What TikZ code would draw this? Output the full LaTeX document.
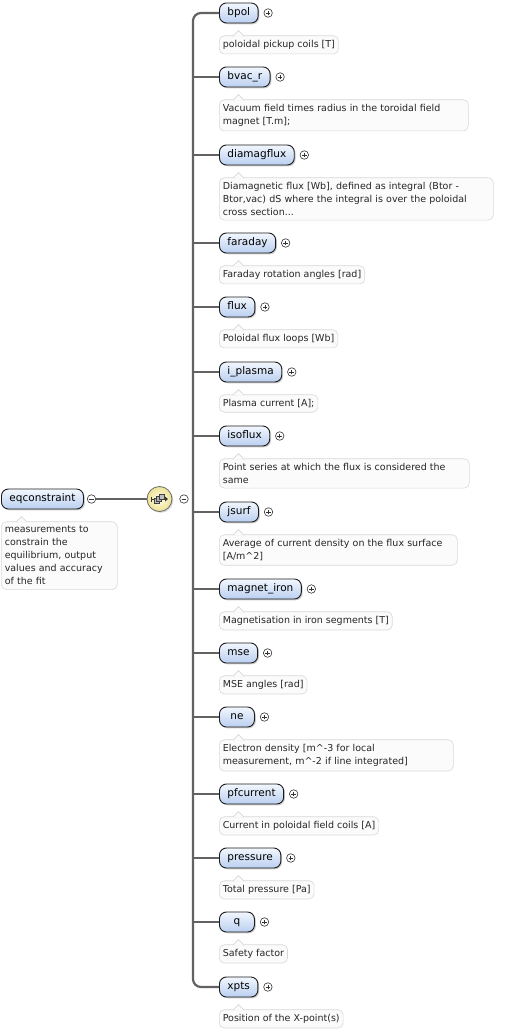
\documentclass[tikz,border=0pt]{standalone}
\usepackage{fontspec}
\setmainfont{DejaVu Sans}
\usepackage{tikz}
\usetikzlibrary{positioning, shadows}
\usepackage{xcolor}
\definecolor{elemtop}{RGB}{242, 247, 254}
\definecolor{elembot}{RGB}{186, 207, 240}
\definecolor{elemline}{RGB}{28, 28, 28}
\definecolor{docfill}{RGB}{251, 251, 251}
\definecolor{docline}{RGB}{216, 216, 216}
\definecolor{wiregray}{RGB}{98, 98, 98}
\definecolor{iconin}{RGB}{255, 252, 226}
\definecolor{iconout}{RGB}{238, 226, 150}
\definecolor{iconline}{RGB}{105, 105, 105}

\begin{document}
\begin{tikzpicture}[
  x=1pt, y=-1pt,
  elem/.style={draw=elemline, line width=0.9pt, rounded corners=7pt,
               top color=elemtop, bottom color=elembot,
               minimum height=20pt, minimum width=35pt, inner xsep=8pt, inner ysep=0pt,
               text height=7.6pt, text depth=2.2pt, anchor=west,
               font=\fontsize{10.5}{12}\selectfont,
               drop shadow={shadow xshift=1.3pt, shadow yshift=-1.3pt, opacity=0.4}},
  doc/.style={draw=docline, line width=0.6pt, fill=docfill, rounded corners=5pt,
              align=left, inner xsep=3.5pt, inner ysep=4.5pt, text=black!85,
              font=\fontsize{9.5}{13}\selectfont},
  notch/.style={draw=docline, line width=0.6pt, fill=docfill},
  wire/.style={draw=wiregray, line width=2.2pt},
  bar/.style={draw=wiregray, line width=2.2pt, rounded corners=8pt},
  plusbtn/.style={circle, draw=black!80, fill=white, line width=0.6pt,
                  minimum size=8.5pt, inner sep=0pt,
                  path picture={\draw[line width=0.7pt]
                    ([xshift=-2.3pt]path picture bounding box.center) -- ([xshift=2.3pt]path picture bounding box.center)
                    ([yshift=-2.3pt]path picture bounding box.center) -- ([yshift=2.3pt]path picture bounding box.center);}},
  minusbtn/.style={circle, draw=black!80, fill=white, line width=0.6pt,
                   minimum size=8.5pt, inner sep=0pt,
                   path picture={\draw[line width=0.7pt]
                     ([xshift=-2.3pt]path picture bounding box.center) -- ([xshift=2.3pt]path picture bounding box.center);}},
  seqicon/.style={circle, draw=iconline, line width=0.8pt, minimum size=25pt, inner sep=0pt,
                  inner color=iconin, outer color=iconout,
                  drop shadow={shadow xshift=1.3pt, shadow yshift=-1.3pt, opacity=0.3}}
]
  \useasboundingbox (0,0) rectangle (516,1032);

  % root element and its sequence
  \node[elem] (eqc) at (1,499) {eqconstraint};
  \node[minusbtn, right=3pt of eqc] (eqcm) {};
  \node[doc, text width=109pt, below=12pt of eqc.south west, anchor=north west] (eqcdoc)
    {measurements to\\constrain the\\equilibrium, output\\values and accuracy\\of the fit};
  \node[seqicon] (seq) at (159.5,499) {};
  \node[minusbtn, right=7pt of seq] (seqm) {};
  \coordinate (bar) at (193,499);

  \begin{scope}[shift={(seq.center)}]
    \draw[black!80, line width=0.9pt] (-8,0) -- (6,0);
    \draw[black!80, line width=0.9pt] (-8,-2.5) -- (-8,2.5);
    \fill[black!80] (8.5,0) -- (5.5,-2.5) -- (5.5,2.5) -- cycle;
    \filldraw[fill=gray!50, draw=black!75, line width=0.5pt] (-5.5,-0.5) rectangle (-0.5,4.5);
    \filldraw[fill=gray!60, draw=black!75, line width=0.5pt] (-3,-2.5) rectangle (2,2.5);
    \filldraw[fill=gray!50, draw=black!75, line width=0.5pt] (-0.5,-4.5) rectangle (4.5,0.5);
  \end{scope}

  % child elements
  \node[elem] (bpol) at (219,13) {bpol};
  \node[plusbtn, right=5pt of bpol] (bpolp) {};
  \node[doc, below=12pt of bpol.south west, anchor=north west] (bpoldoc)
    {poloidal pickup coils [T]};

  \node[elem] (bvacr) at (219,77) {bvac\_r};
  \node[plusbtn, right=5pt of bvacr] (bvacrp) {};
  \node[doc, text width=242pt, below=12pt of bvacr.south west, anchor=north west] (bvacrdoc)
    {Vacuum field times radius in the toroidal field\\magnet [T.m];};

  \node[elem] (diamag) at (219,155) {diamagflux};
  \node[plusbtn, right=5pt of diamag] (diamagp) {};
  \node[doc, text width=267pt, below=12pt of diamag.south west, anchor=north west] (diamagdoc)
    {Diamagnetic flux [Wb], defined as integral (Btor -\\Btor,vac) dS where the integral is over the poloidal\\cross section...};

  \node[elem] (faraday) at (219,243) {faraday};
  \node[plusbtn, right=5pt of faraday] (faradayp) {};
  \node[doc, below=12pt of faraday.south west, anchor=north west] (faradaydoc)
    {Faraday rotation angles [rad]};

  \node[elem] (flux) at (219,307) {flux};
  \node[plusbtn, right=5pt of flux] (fluxp) {};
  \node[doc, below=12pt of flux.south west, anchor=north west] (fluxdoc)
    {Poloidal flux loops [Wb]};

  \node[elem] (iplasma) at (219,372) {i\_plasma};
  \node[plusbtn, right=5pt of iplasma] (iplasmap) {};
  \node[doc, below=12pt of iplasma.south west, anchor=north west] (iplasmadoc)
    {Plasma current [A];};

  \node[elem] (isoflux) at (219,436) {isoflux};
  \node[plusbtn, right=5pt of isoflux] (isofluxp) {};
  \node[doc, text width=243pt, below=12pt of isoflux.south west, anchor=north west] (isofluxdoc)
    {Point series at which the flux is considered the\\same};

  \node[elem] (jsurf) at (219,512) {jsurf};
  \node[plusbtn, right=5pt of jsurf] (jsurfp) {};
  \node[doc, text width=231pt, below=12pt of jsurf.south west, anchor=north west] (jsurfdoc)
    {Average of current density on the flux surface\\{[A/m\textasciicircum2]}};

  \node[elem] (magiron) at (219,589) {magnet\_iron};
  \node[plusbtn, right=5pt of magiron] (magironp) {};
  \node[doc, below=12pt of magiron.south west, anchor=north west] (magirondoc)
    {Magnetisation in iron segments [T]};

  \node[elem] (mse) at (219,653) {mse};
  \node[plusbtn, right=5pt of mse] (msep) {};
  \node[doc, below=12pt of mse.south west, anchor=north west] (msedoc)
    {MSE angles [rad]};

  \node[elem] (ne) at (219,717) {ne};
  \node[plusbtn, right=5pt of ne] (nep) {};
  \node[doc, text width=227pt, below=12pt of ne.south west, anchor=north west] (nedoc)
    {Electron density [m\textasciicircum-3 for local\\measurement, m\textasciicircum-2 if line integrated]};

  \node[elem] (pfcur) at (219,794) {pfcurrent};
  \node[plusbtn, right=5pt of pfcur] (pfcurp) {};
  \node[doc, below=12pt of pfcur.south west, anchor=north west] (pfcurdoc)
    {Current in poloidal field coils [A]};

  \node[elem] (pressure) at (219,858) {pressure};
  \node[plusbtn, right=5pt of pressure] (pressurep) {};
  \node[doc, below=12pt of pressure.south west, anchor=north west] (pressuredoc)
    {Total pressure [Pa]};

  \node[elem] (q) at (219,922) {q};
  \node[plusbtn, right=5pt of q] (qp) {};
  \node[doc, below=12pt of q.south west, anchor=north west] (qdoc)
    {Safety factor};

  \node[elem] (xpts) at (219,987) {xpts};
  \node[plusbtn, right=5pt of xpts] (xptsp) {};
  \node[doc, below=12pt of xpts.south west, anchor=north west] (xptsdoc)
    {Position of the X-point(s)};

  % pointers of the documentation boxes
  \path[notch] ([xshift=15pt, yshift=-0.7pt]eqcdoc.north west)   -- ++(5.5pt,5.5pt) -- ++(5.5pt,-5.5pt);
  \path[notch] ([xshift=14pt, yshift=-0.7pt]bpoldoc.north west)  -- ++(5.5pt,5.5pt) -- ++(5.5pt,-5.5pt);
  \path[notch] ([xshift=14pt, yshift=-0.7pt]bvacrdoc.north west) -- ++(5.5pt,5.5pt) -- ++(5.5pt,-5.5pt);
  \path[notch] ([xshift=14pt, yshift=-0.7pt]diamagdoc.north west) -- ++(5.5pt,5.5pt) -- ++(5.5pt,-5.5pt);
  \path[notch] ([xshift=14pt, yshift=-0.7pt]faradaydoc.north west) -- ++(5.5pt,5.5pt) -- ++(5.5pt,-5.5pt);
  \path[notch] ([xshift=14pt, yshift=-0.7pt]fluxdoc.north west)  -- ++(5.5pt,5.5pt) -- ++(5.5pt,-5.5pt);
  \path[notch] ([xshift=14pt, yshift=-0.7pt]iplasmadoc.north west) -- ++(5.5pt,5.5pt) -- ++(5.5pt,-5.5pt);
  \path[notch] ([xshift=14pt, yshift=-0.7pt]isofluxdoc.north west) -- ++(5.5pt,5.5pt) -- ++(5.5pt,-5.5pt);
  \path[notch] ([xshift=14pt, yshift=-0.7pt]jsurfdoc.north west) -- ++(5.5pt,5.5pt) -- ++(5.5pt,-5.5pt);
  \path[notch] ([xshift=14pt, yshift=-0.7pt]magirondoc.north west) -- ++(5.5pt,5.5pt) -- ++(5.5pt,-5.5pt);
  \path[notch] ([xshift=14pt, yshift=-0.7pt]msedoc.north west)   -- ++(5.5pt,5.5pt) -- ++(5.5pt,-5.5pt);
  \path[notch] ([xshift=14pt, yshift=-0.7pt]nedoc.north west)    -- ++(5.5pt,5.5pt) -- ++(5.5pt,-5.5pt);
  \path[notch] ([xshift=14pt, yshift=-0.7pt]pfcurdoc.north west) -- ++(5.5pt,5.5pt) -- ++(5.5pt,-5.5pt);
  \path[notch] ([xshift=14pt, yshift=-0.7pt]pressuredoc.north west) -- ++(5.5pt,5.5pt) -- ++(5.5pt,-5.5pt);
  \path[notch] ([xshift=14pt, yshift=-0.7pt]qdoc.north west)     -- ++(5.5pt,5.5pt) -- ++(5.5pt,-5.5pt);
  \path[notch] ([xshift=14pt, yshift=-0.7pt]xptsdoc.north west)  -- ++(5.5pt,5.5pt) -- ++(5.5pt,-5.5pt);

  % connectors
  \draw[wire] (eqcm) -- (seq);
  \draw[bar] (bpol.west) -| (bar) |- (xpts.west);
  \draw[wire] (bar |- bvacr.west)    -- (bvacr.west);
  \draw[wire] (bar |- diamag.west)   -- (diamag.west);
  \draw[wire] (bar |- faraday.west)  -- (faraday.west);
  \draw[wire] (bar |- flux.west)     -- (flux.west);
  \draw[wire] (bar |- iplasma.west)  -- (iplasma.west);
  \draw[wire] (bar |- isoflux.west)  -- (isoflux.west);
  \draw[wire] (bar |- jsurf.west)    -- (jsurf.west);
  \draw[wire] (bar |- magiron.west)  -- (magiron.west);
  \draw[wire] (bar |- mse.west)      -- (mse.west);
  \draw[wire] (bar |- ne.west)       -- (ne.west);
  \draw[wire] (bar |- pfcur.west)    -- (pfcur.west);
  \draw[wire] (bar |- pressure.west) -- (pressure.west);
  \draw[wire] (bar |- q.west)        -- (q.west);
\end{tikzpicture}
\end{document}
